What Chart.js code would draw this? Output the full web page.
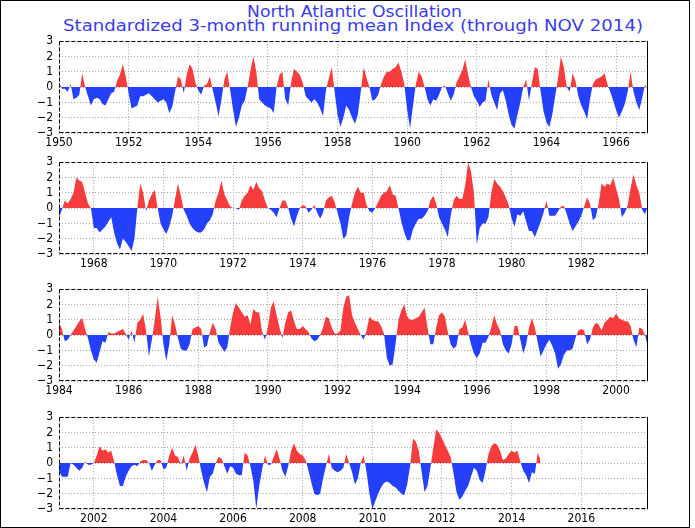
<!DOCTYPE html>
<html>
<head>
<meta charset="utf-8">
<script src="https://cdn.jsdelivr.net/npm/chart.js@4.4.1/dist/chart.umd.min.js"></script>
<style>
html,body{margin:0;padding:0;background:#fff;}
#page{position:relative;width:695px;height:528px;overflow:hidden;background:#fff;}
.frame{position:absolute;left:0;top:0;width:688px;height:526px;border:1px solid #000;pointer-events:none;}
.title{position:absolute;left:0;white-space:nowrap;font-family:'DejaVu Sans',sans-serif;color:#3c3ce6;font-size:15px;line-height:15px;transform-origin:0 0;}
.panel{position:absolute;left:0;width:695px;height:125px;}
</style>
</head>
<body>
<div id="page">
  <div class="title" id="t1" style="top:5px">North Atlantic Oscillation</div>
  <div class="title" id="t2" style="top:19px">Standardized 3-month running mean Index (through NOV 2014)</div>
  <div class="panel" style="top:28px"><canvas id="c1" width="695" height="125"></canvas></div>
  <div class="panel" style="top:149px"><canvas id="c2" width="695" height="125"></canvas></div>
  <div class="panel" style="top:276px"><canvas id="c3" width="695" height="125"></canvas></div>
  <div class="panel" style="top:404px"><canvas id="c4" width="695" height="125"></canvas></div>
  <div class="frame"></div>
</div>
<script>
// ---- Data: standardized 3-month running mean NAO index, monthly (Jan..Dec per row) ----
const panelStartYears = [1950, 1967, 1984, 2001];

const nao1950to1966 = [
  0.3,-0.1,-0.1,-0.3, 0.2,-0.8,-0.7,-0.5, 0.9, 0.0,-0.6,-1.2,
 -0.8,-0.7,-0.8,-1.1,-1.2,-0.8,-0.4,-0.3, 0.4, 0.8, 1.5, 0.7,
 -0.4,-1.4,-1.3,-1.2,-0.6,-0.6,-0.5,-0.4,-0.6,-0.8,-1.0,-0.9,
 -0.8,-1.0,-1.7,-1.3,-0.3, 0.7, 0.5,-0.4, 0.8, 1.5, 1.2, 0.3,
 -0.2,-0.5, 0.1, 0.2, 0.7,-0.2,-1.0,-1.9,-0.8, 0.5, 1.0,-0.2,
 -1.5,-2.6,-2.0,-1.2,-0.9, 0.0, 1.1, 2.0, 1.0,-0.8,-1.0,-1.2,
 -1.3,-1.4,-1.7, 0.0, 0.8, 1.0,-0.8,-1.2, 0.3, 1.2, 1.0, 0.8,
  0.3,-0.6,-0.8,-1.0,-0.8,-1.0,-1.4,-1.9,-0.2, 0.6, 1.3,-0.3,
 -1.8,-2.6,-2.0,-1.2,-1.5,-2.0,-2.4,-1.8,-0.3, 1.3, 0.6, 0.0,
 -0.9,-0.8,-0.5, 0.2, 0.7, 1.0, 1.0, 1.2, 1.3, 1.6, 1.0, 0.2,
 -1.5,-2.7,-1.2, 0.2, 1.0, 0.7, 0.0,-0.8,-1.2,-0.8,-0.9,-0.5,
  0.0, 0.1,-0.4,-0.9,-0.5, 0.3, 0.7, 1.1, 1.8, 0.8, 0.0,-0.6,
 -0.9,-1.3,-1.0,-0.9, 0.5,-0.5,-1.0,-1.5,-0.4,-0.2,-0.9,-1.8,
 -2.5,-2.7,-1.8,-1.0, 0.0, 0.5,-0.9, 0.3, 1.3, 1.2,-0.3,-1.6,
 -2.3,-2.6,-1.8,-0.6, 0.6, 2.0, 1.3, 0.0,-0.3, 0.9, 0.4,-0.6,
 -1.2,-1.6,-2.1,-0.8, 0.2, 0.5, 0.6, 0.7, 0.9, 0.2,-0.3,-0.9,
 -1.5,-2.0,-1.6,-1.1,-0.3, 1.0,-0.3,-1.0,-1.5,-0.7, 0.2,-0.3
];

const nao1967to1983 = [
 -0.6,-0.1, 0.5, 0.3, 0.6, 1.0, 2.0, 1.8, 1.7, 1.0, 0.3, 0.0,
 -1.3,-1.3,-1.6,-1.4,-1.2,-0.9,-0.6,-1.6,-2.3,-2.7,-2.0,-2.2,
 -2.5,-2.8,-2.0, 0.0, 1.6, 1.0,-0.2, 0.5, 0.9, 1.2, 0.0,-1.0,
 -1.4,-1.7,-1.2,-0.5, 0.6, 1.6, 0.8,-0.1,-0.5,-1.0,-1.3,-1.5,
 -1.6,-1.6,-1.4,-1.0,-0.8,-0.4, 0.5, 1.0, 1.8, 0.9, 0.5, 0.1,
  0.0, 0.0,-0.1, 0.5, 0.8, 1.0, 1.5, 1.2, 1.7, 1.3, 1.1, 0.5,
  0.0,-0.1,-0.3,-0.6, 0.0, 0.5, 0.5, 0.0,-0.7,-1.2,-0.5, 0.0,
  0.2, 0.1,-0.3,-0.1, 0.2,-0.3,-0.7,-0.3, 0.5, 0.7, 0.8, 0.4,
 -0.3,-1.0,-2.0,-1.8,-0.6, 0.3, 1.0, 1.4, 1.0, 1.0, 0.2,-0.2,
 -0.3, 0.0, 0.4, 0.8, 1.0, 1.1, 1.5, 0.9, 0.8, 0.0,-0.9,-1.6,
 -2.1,-2.1,-1.4,-1.0,-0.7,-0.7,-0.5,-0.2, 0.5, 0.8, 0.3,-0.6,
 -1.0,-1.4,-1.9,-0.5, 0.5, 0.8, 0.6, 0.6, 1.5, 3.0, 2.4, 1.0,
 -2.4,-1.3,-1.0,-1.0,-0.6, 1.0, 1.9, 1.6, 1.4, 1.1, 0.7, 0.2,
 -0.7,-1.2,-0.4,-0.5,-0.2,-0.9,-1.5,-1.5,-1.9,-1.4,-0.9,-0.3,
  0.5,-0.5,-0.5,-0.5,-0.2, 0.1, 0.15,-0.4,-1.0,-1.5,-1.2,-0.9,
 -0.5, 0.1, 0.7, 0.3,-0.8,-0.6, 0.3, 1.6, 1.4, 1.6, 1.5, 2.0,
  1.3, 0.6,-0.6,-0.3, 0.2, 1.3, 2.2, 1.5, 1.0,-0.1,-0.4, 0.2
];

const nao1984to2000 = [
  0.8, 0.4,-0.4,-0.3, 0.0, 0.3, 0.6, 0.9, 1.1, 0.4,-0.2,-1.0,
 -1.6,-1.8,-1.1,-0.4,-0.5, 0.2, 0.1, 0.1, 0.2, 0.3, 0.4, 0.1,
 -0.3, 0.3,-0.5, 0.8, 1.0, 1.4, 0.3,-1.4,-0.3, 1.0, 2.5, 1.2,
 -0.6,-1.7,-0.6, 1.3, 0.7,-0.2,-0.9,-1.0,-1.0,-0.6, 0.4, 0.5,
  0.6, 0.4,-0.8,-0.7, 0.2, 0.8, 0.4,-0.5,-0.8,-1.1,-0.8, 0.5,
  1.5, 2.1, 1.8, 1.5, 1.2, 1.3, 0.7, 1.7, 1.5, 1.5, 0.2,-0.3,
  0.5, 1.8, 2.2, 1.3, 0.5,-0.2, 0.8, 1.5, 1.6, 0.9, 0.4, 0.4,
  0.6, 0.4, 0.2,-0.2,-0.4,-0.3, 0.0, 0.5, 1.2, 1.1, 0.5, 0.1,
  0.1, 0.3, 1.8, 2.5, 2.6, 1.3, 0.8, 0.4, 0.0,-0.3, 0.3, 1.2,
  1.0, 0.9, 0.9, 0.6, 0.1,-1.5,-2.0,-1.9,-0.6, 1.0, 1.6, 2.0,
  1.2, 1.0, 1.0, 1.1, 1.2, 1.5, 1.8, 0.5,-0.6,-0.6, 0.5, 1.3,
  1.5, 1.2, 0.2,-0.6,-0.9,-0.7, 0.4, 0.5, 1.0, 0.2,-0.6,-1.2,
 -1.5,-1.2,-0.5,-0.5,-0.1, 0.5, 1.3, 0.7, 0.3,-0.6,-1.0,-1.2,
 -0.6, 0.6, 0.6,-0.3,-1.2,-0.6, 0.5, 1.1, 0.5,-0.5,-1.4,-1.0,
 -0.6,-0.3,-0.7,-1.2,-2.2,-1.9,-1.3,-1.0,-1.0,-0.9,-0.2, 0.3,
  0.4, 0.3,-0.6,-0.3, 0.5, 0.8, 0.7, 0.3, 0.8, 1.0, 1.2, 1.1,
  1.4, 1.1, 1.0, 0.9, 0.9, 0.6,-0.3,-0.8, 0.5, 0.4, 0.0,-0.8
];

const nao2001to2014 = [
 -0.5,-0.9,-0.9,-0.9, 0.0,-0.1,-0.3,-0.5,-0.3, 0.1,-0.1,-0.1,
  0.0, 0.5, 1.1, 0.8, 0.9, 0.7, 0.8, 0.1,-0.8,-1.5,-1.5,-0.9,
 -0.5,-0.2,-0.1,-0.2, 0.1, 0.2, 0.2, 0.0,-0.5,-0.1, 0.2, 0.2,
 -0.4,-0.3, 0.5, 1.0, 0.5, 0.4,-0.1, 0.5,-0.5, 0.3, 0.7, 1.2,
  0.5,-0.5,-1.3,-1.9,-0.9,-0.7, 0.0, 0.4, 0.3,-0.2,-0.7,-0.2,
 -0.3,-0.7,-0.8,-0.8, 0.7, 0.5,-0.2,-1.2,-3.0,-1.5,-0.4, 0.5,
 -0.1,-0.1, 0.4, 0.9, 0.3,-0.5,-0.9,-0.2, 0.8, 1.3, 0.8, 0.6,
  0.5, 0.2,-0.5,-1.3,-2.0,-2.1,-2.0,-1.0,-0.2, 0.6,-0.3,-0.5,
 -0.6,-0.5,-0.3, 0.6, 0.0,-0.6,-1.4,-1.0, 0.0, 0.5,-0.6,-2.0,
 -3.0,-2.5,-2.0,-1.6,-1.3,-1.2,-1.3,-1.5,-1.6,-1.8,-2.0,-2.1,
 -1.4,-0.2, 1.6, 1.4, 0.8,-0.6,-1.9,-1.5,-0.3, 1.0, 2.2, 2.0,
  1.6, 1.2, 0.8, 0.4,-0.7,-1.9,-2.4,-2.2,-1.8,-1.5,-0.9,-0.3,
 -0.5,-1.1,-1.3,-0.5, 0.6, 1.1, 1.3, 1.2, 0.8, 0.2, 0.3, 0.6,
  0.8, 0.7, 0.8, 0.1,-0.5,-0.8,-1.3,-0.6,-0.7, 0.7, 0.2
];

const xTicks1 = [1950,1952,1954,1956,1958,1960,1962,1964,1966];
const xTicks2 = [1968,1970,1972,1974,1976,1978,1980,1982];
const xTicks3 = [1984,1986,1988,1990,1992,1994,1996,1998,2000];
const xTicks4 = [2002,2004,2006,2008,2010,2012,2014,2016];
const yTicks = [-3,-2,-1,0,1,2,3];

// ---- Styles ----
const RED = 'rgb(246,60,60)';
const BLUE = 'rgb(36,64,250)';
const GRID = 'rgb(165,165,165)';
const TICK_FONT = {family: "'Liberation Sans Narrow','DejaVu Sans Condensed','Liberation Sans',sans-serif", size: 12};

const edgePlugin = {
  id: 'edgeLines',
  afterDraw(chart) {
    const ctx = chart.ctx, a = chart.chartArea;
    const l = Math.round(a.left) + 0.5, r = Math.round(a.right) - 0.5;
    const t = Math.round(a.top) + 0.5, b = Math.round(a.bottom) - 0.5;
    ctx.save();
    ctx.strokeStyle = '#000';
    ctx.lineWidth = 1;
    ctx.setLineDash([4, 2]);
    ctx.beginPath();
    ctx.moveTo(l, t); ctx.lineTo(r, t);
    ctx.moveTo(l, b); ctx.lineTo(r, b);
    ctx.moveTo(l, t); ctx.lineTo(l, b);
    ctx.stroke();
    ctx.setLineDash([]);
    ctx.beginPath();
    ctx.moveTo(r, t - 0.5); ctx.lineTo(r, b + 0.5);
    ctx.stroke();
    ctx.restore();
  }
};

function makePanel(canvasId, startYear, values, xTicks) {
  const pts = values.map((v, i) => ({x: startYear + i / 12, y: v}));
  return new Chart(document.getElementById(canvasId), {
    type: 'line',
    data: {
      datasets: [{
        data: pts,
        borderWidth: 0,
        pointRadius: 0,
        tension: 0,
        backgroundColor: RED,
        fill: {target: 'origin', above: RED, below: BLUE}
      }]
    },
    options: {
      responsive: false,
      animation: false,
      devicePixelRatio: 1,
      layout: {autoPadding: false, padding: {top: 10, right: 47, left: 0, bottom: 0}},
      plugins: {legend: {display: false}, tooltip: {enabled: false}, title: {display: false}},
      scales: {
        x: {
          type: 'linear',
          min: startYear,
          max: startYear + 17 - 1 / 12,
          afterBuildTicks: s => { s.ticks = xTicks.map(v => ({value: v})); },
          afterFit: s => { s.height = 20; },
          grid: {color: GRID, lineWidth: 1, drawTicks: false},
          border: {display: false, dash: [1, 2]},
          ticks: {font: TICK_FONT, color: '#000', padding: 3, maxRotation: 0, autoSkip: false,
                  callback: v => String(Math.round(v))}
        },
        y: {
          type: 'linear',
          min: -3, max: 3,
          afterBuildTicks: s => { s.ticks = yTicks.map(v => ({value: v})); },
          afterFit: s => { s.width = 59; },
          grid: {color: GRID, lineWidth: 1, drawTicks: false},
          border: {display: false, dash: [1, 2]},
          ticks: {font: TICK_FONT, color: '#000', padding: 6, autoSkip: false,
                  callback: v => v < 0 ? '\u2212' + Math.abs(v) : String(v)}
        }
      }
    },
    plugins: [edgePlugin]
  });
}

makePanel('c1', panelStartYears[0], nao1950to1966, xTicks1);
makePanel('c2', panelStartYears[1], nao1967to1983, xTicks2);
makePanel('c3', panelStartYears[2], nao1984to2000, xTicks3);
makePanel('c4', panelStartYears[3], nao2001to2014, xTicks4);

// Fit the two title lines to the width they occupy in the original
function fitTitle(id, left, width) {
  const el = document.getElementById(id);
  const w = el.getBoundingClientRect().width;
  el.style.left = left + 'px';
  el.style.transform = 'scaleX(' + (width / w) + ')';
}
fitTitle('t1', 247, 215);
fitTitle('t2', 63, 580);
</script>
</body>
</html>
